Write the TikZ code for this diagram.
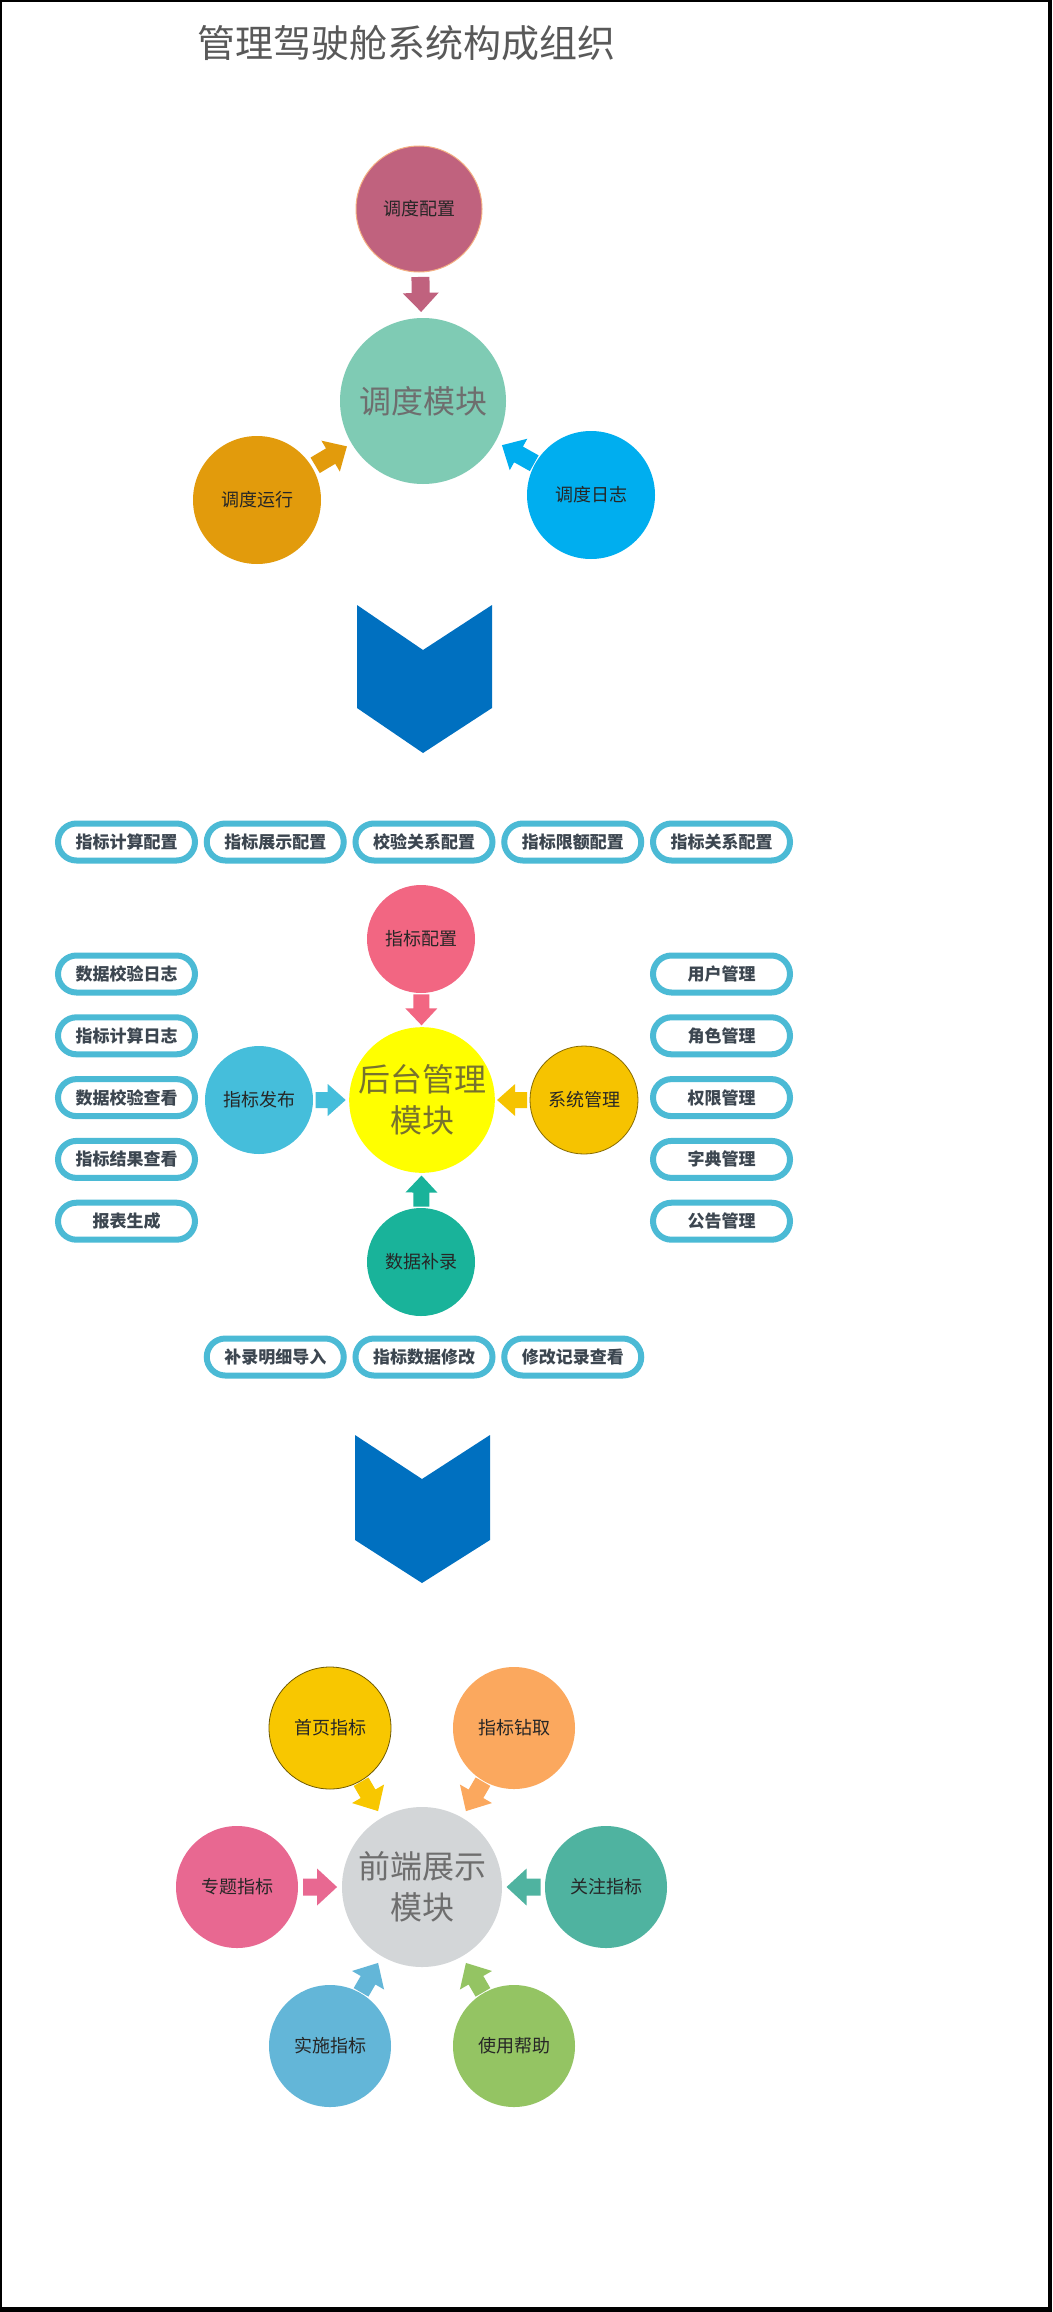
\documentclass[tikz,border=0pt]{standalone}
\usepackage{fontspec}
\setmainfont{Noto Sans CJK SC}
\usetikzlibrary{calc}
\definecolor{cA}{HTML}{C0627E}
\definecolor{cAb}{HTML}{F4B183}
\definecolor{cB}{HTML}{7FCBB4}
\definecolor{cC}{HTML}{E29B0C}
\definecolor{cD}{HTML}{00AEEF}
\definecolor{chev}{HTML}{0070C0}
\definecolor{pillb}{HTML}{4BBAD5}
\definecolor{pillt}{HTML}{3C4650}
\definecolor{cE}{HTML}{F26682}
\definecolor{cF}{HTML}{FFFF00}
\definecolor{cG}{HTML}{45BEDB}
\definecolor{cH}{HTML}{F6C300}
\definecolor{cI}{HTML}{19B39A}
\definecolor{cJ}{HTML}{F8C700}
\definecolor{cK}{HTML}{FBA85E}
\definecolor{cL}{HTML}{E86891}
\definecolor{cM}{HTML}{4FB3A0}
\definecolor{cN}{HTML}{63B6D8}
\definecolor{cO}{HTML}{94C463}
\definecolor{cP}{HTML}{D3D6D8}
\definecolor{txtd}{HTML}{262626}
\definecolor{txtg}{HTML}{6E6E6E}
\definecolor{txty}{HTML}{77722E}
\definecolor{ttl}{HTML}{595959}
\newcommand\barrow[8]{%
  \path let \p1=($(#2)-(#1)$), \n1={atan2(\y1,\x1)} in \pgfextra{\xdef\bang{\n1}};
  \begin{scope}[shift={($(#1)!#3!(#2)$)}, rotate=\bang]
    \fill[#4] (-#5/2,-#6) -- (#5/2-#8,-#6) -- (#5/2-#8,-#7) -- (#5/2,0)
      -- (#5/2-#8,#7) -- (#5/2-#8,#6) -- (-#5/2,#6) -- cycle;
  \end{scope}}
\begin{document}
\begin{tikzpicture}[x=1pt,y=-1pt,
  small/.style={circle, inner sep=0pt, minimum size=#1, text=txtd, font=\fontsize{18}{22}\selectfont},
  big/.style={circle, inner sep=0pt, minimum size=#1, text=txtg, align=center, font=\fontsize{32}{41}\selectfont},
  pill/.style={rectangle, rounded corners=18.5pt, draw=pillb, line width=6pt, fill=white,
    minimum width=137pt, minimum height=37pt, inner sep=0pt, text=pillt,
    font=\bfseries\fontsize{17}{20}\selectfont},
  chevron/.style={fill=chev}]
\useasboundingbox (0,0) rectangle (1052,2312);
\fill[black] (0,0) rectangle (1052,2312);
\fill[white] (2,2) rectangle (1048,2307);

\node[text=ttl, font=\fontsize{38}{44}\selectfont] (title) at (406,43) {管理驾驶舱系统构成组织};

% section 1
\node[small=126pt, fill=cA, draw=cAb, line width=1pt] (s1c) at (419,209) {调度配置};
\node[big=166pt, fill=cB] (s1m) at (423,401) {调度模块};
\node[small=128pt, fill=cC] (s1l) at (257,500) {调度运行};
\node[small=128pt, fill=cD] (s1r) at (591,495) {调度日志};
\barrow{s1c}{s1m}{0.445}{cA}{35}{9}{18}{19}
\barrow{s1l}{s1m}{0.446}{cC}{37}{9}{18}{19}
\barrow{s1r}{s1m}{0.434}{cD}{37}{9}{18}{19}

\fill[chevron] (357,605) -- (423,650) -- (492,605) -- (492,708) -- (423,753) -- (357,708) -- cycle;

% section 2
\foreach \t [count=\i from 0] in {指标计算配置,指标展示配置,校验关系配置,指标限额配置,指标关系配置}
  \node[pill] (top\i) at (126.5+148.75*\i,842) {\t};
\foreach \t [count=\i from 0] in {数据校验日志,指标计算日志,数据校验查看,指标结果查看,报表生成}
  \node[pill] (lft\i) at (126.5,974+61.8*\i) {\t};
\foreach \t [count=\i from 0] in {用户管理,角色管理,权限管理,字典管理,公告管理}
  \node[pill] (rgt\i) at (721.5,974+61.8*\i) {\t};
\foreach \t [count=\i from 0] in {补录明细导入,指标数据修改,修改记录查看}
  \node[pill] (bot\i) at (275.25+148.75*\i,1357) {\t};

\node[small=108pt, fill=cE] (s2t) at (421,939) {指标配置};
\node[big=142pt, fill=cF, text=txty] (s2m) at (422,1100) {后台管理\\模块};
\node[small=108pt, fill=cG] (s2l) at (259,1100) {指标发布};
\node[small=108pt, fill=cH, draw=black!45!cH, line width=0.8pt] (s2r) at (584,1100) {系统管理};
\node[small=108pt, fill=cI] (s2b) at (421,1262) {数据补录};
\barrow{s2t}{s2m}{0.44}{cE}{31}{8}{16}{17}
\barrow{s2l}{s2m}{0.44}{cG}{30}{8}{16}{18}
\barrow{s2r}{s2m}{0.444}{cH}{30}{8}{16}{18}
\barrow{s2b}{s2m}{0.438}{cI}{31}{8}{16}{17}

\fill[chevron] (355,1435) -- (422,1479) -- (490,1435) -- (490,1540) -- (422,1583) -- (355,1540) -- cycle;

% section 3
\node[big=160pt, fill=cP] (s3m) at (422,1887) {前端展示\\模块};
\node[small=122pt, fill=cJ, draw=black!55!cJ, line width=0.8pt] (s3a) at (330,1728) {首页指标};
\node[small=122pt, fill=cK] (s3b) at (514,1728) {指标钻取};
\node[small=122pt, fill=cL] (s3c) at (237,1887) {专题指标};
\node[small=122pt, fill=cM] (s3d) at (606,1887) {关注指标};
\node[small=122pt, fill=cN] (s3e) at (330,2046) {实施指标};
\node[small=122pt, fill=cO] (s3f) at (514,2046) {使用帮助};
\barrow{s3a}{s3m}{0.43}{cJ}{34}{8.5}{18.5}{20}
\barrow{s3b}{s3m}{0.43}{cK}{34}{8.5}{18.5}{20}
\barrow{s3c}{s3m}{0.449}{cL}{34}{8.5}{18.5}{20}
\barrow{s3d}{s3m}{0.448}{cM}{34}{8.5}{18.5}{20}
\barrow{s3e}{s3m}{0.43}{cN}{34}{8.5}{18.5}{20}
\barrow{s3f}{s3m}{0.43}{cO}{34}{8.5}{18.5}{20}
\end{tikzpicture}
\end{document}
